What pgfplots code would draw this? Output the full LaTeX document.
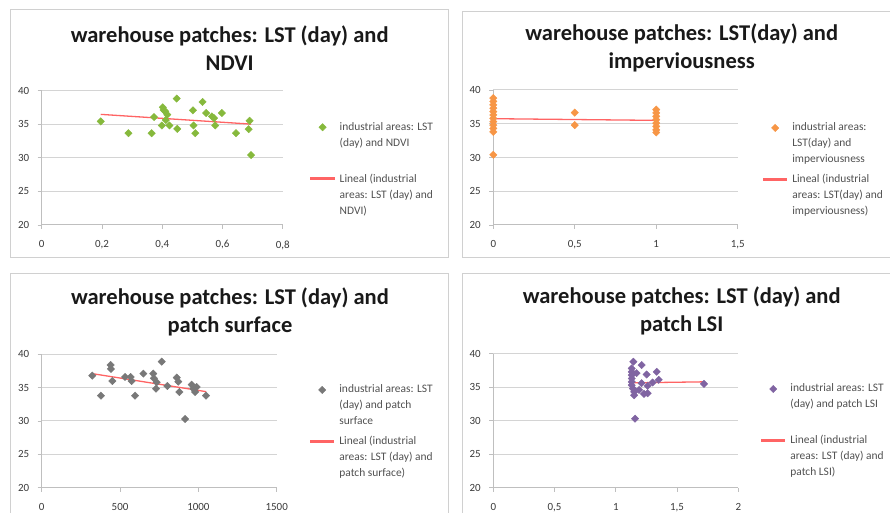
\documentclass[border=0pt]{standalone}
\usepackage{fontspec}
\setmainfont{Carlito}
\usepackage{pgfplots}
\pgfplotsset{compat=1.18}
\definecolor{cgreen}{HTML}{86B93C}
\definecolor{corange}{HTML}{F79646}
\definecolor{cgray}{HTML}{787878}
\definecolor{cpurple}{HTML}{8064A2}
\definecolor{ctrend}{HTML}{FF6464}
\definecolor{cgrid}{HTML}{D4D4D4}
\definecolor{caxis}{HTML}{BFBFBF}
\definecolor{cframe}{HTML}{D0D0D0}
\definecolor{ctext}{HTML}{3A3A3A}
\definecolor{clegend}{HTML}{505050}

\newcommand\lgtwo[2]{\vtop{\baselineskip=16bp\hbox{#1}\hbox{#2}}}
\newcommand\lgthree[3]{\vtop{\baselineskip=16bp\hbox{#1}\hbox{#2}\hbox{#3}}}

\pgfplotsset{
  excel/.style={
    scale only axis,
    anchor=south west,
    axis x line*=bottom,
    axis y line*=left,
    ymin=20, ymax=40, ytick={20,25,30,35,40},
    ymajorgrids,
    grid style={cgrid, line width=1bp},
    axis line style={caxis, line width=1bp},
    tick style={caxis, line width=0.8bp},
    tick align=outside,
    major tick length=4bp,
    tick label style={font=\fontsize{11}{13}\selectfont, text=ctext},
    /pgf/number format/assume math mode=true,
    /pgf/number format/use comma,
    /pgf/number format/1000 sep={},
    yticklabel style={xshift=-5bp},
    xticklabel style={yshift=-8bp},
    title style={align=center, font=\bfseries\fontsize{22.6}{28}\selectfont, text=black!90, anchor=center},
    legend cell align=left,
    legend style={draw=none, fill=none, anchor=north west, inner sep=0pt, outer sep=0pt,
      font=\fontsize{11.5}{16}\selectfont, text=clegend,
      cells={anchor=base west}, nodes={inner sep=0pt, text height=8bp, text depth=44bp},
      column sep=5bp, row sep=0pt},
    clip=false,
  },
  pts/.style={only marks, mark=square*, mark size=2.6bp, mark options={rotate=45, draw=#1, fill=#1}, color=#1,
    legend image code/.code={\draw[##1] plot coordinates {(11.5bp,3bp)};}},
  trend/.style={no marks, ctrend, line width=1.3bp,
    legend image code/.code={\fill[ctrend] (0bp,2.5bp) rectangle (23bp,4.1bp);}},
}

\begin{document}
\begin{tikzpicture}
\useasboundingbox (0bp,0bp) rectangle (890bp,513bp);
\draw[cframe, line width=1bp] (10bp,255bp) rectangle (448bp,503bp);
\draw[cframe, line width=1bp] (462bp,255bp) rectangle (900bp,501bp);
\draw[cframe, line width=1bp] (10bp,-10bp) rectangle (448bp,239bp);
\draw[cframe, line width=1bp] (462bp,-10bp) rectangle (900bp,239bp);

% Panel 1: NDVI
\begin{axis}[excel, at={(41.7bp,288bp)}, width=241bp, height=134.5bp,
  xmin=0, xmax=0.8, xtick={0,0.2,0.4,0.6,0.8},
  title={warehouse patches: LST (day) and\\NDVI},
  title style={at={(axis description cs:0.78,1)}, yshift=36.5bp},
  legend style={at={(axis description cs:1.115,0.764)}}]
\addplot[pts=cgreen] coordinates {
(0.196,35.4) (0.288,33.65) (0.365,33.65) (0.373,36.05) (0.402,37.5) (0.41,36.9)
(0.417,36.4) (0.399,34.8) (0.424,34.8) (0.405,37.1) (0.448,38.8) (0.45,34.3)
(0.502,37.05) (0.504,34.8) (0.51,33.65) (0.534,38.3) (0.546,36.65) (0.565,36.15)
(0.572,35.9) (0.576,34.8) (0.598,36.65) (0.645,33.65) (0.69,35.5) (0.687,34.25)
(0.695,30.4) (0.412,35.6)};
\addlegendentry{\lgtwo{industrial areas: LST}{(day) and NDVI}}
\addplot[trend] coordinates {(0.196,36.45) (0.695,35.0)};
\addlegendentry{\lgthree{Lineal (industrial}{areas: LST (day) and}{NDVI)}}
\end{axis}

% Panel 2: imperviousness
\begin{axis}[excel, at={(493.3bp,288bp)}, width=244.4bp, height=135bp,
  xmin=0, xmax=1.5, xtick={0,0.5,1,1.5},
  title={warehouse patches: LST(day) and\\imperviousness},
  title style={at={(axis description cs:0.771,1)}, yshift=36.5bp},
  legend style={at={(axis description cs:1.1035,0.756)}}]
\addplot[pts=corange] coordinates {
(0,38.8) (0,38.3) (0,37.8) (0,37.3) (0,36.8) (0,36.3) (0,35.8) (0,35.3)
(0,34.8) (0,34.3) (0,33.8) (0,30.4)
(0.5,36.65) (0.5,34.8)
(1,37.1) (1,36.6) (1,36.1) (1,35.6) (1,35.1) (1,34.6) (1,34.1) (1,33.7)};
\addlegendentry{\lgthree{industrial areas:}{LST(day) and}{imperviousness}}
\addplot[trend] coordinates {(0,35.75) (1,35.5)};
\addlegendentry{\lgthree{Lineal (industrial}{areas: LST(day) and}{imperviousness)}}
\end{axis}

% Panel 3: patch surface
\begin{axis}[excel, at={(41.7bp,25.3bp)}, width=235bp, height=133.4bp,
  xmin=0, xmax=1500, xtick={0,500,1000,1500},
  title={warehouse patches: LST (day) and\\patch surface},
  title style={at={(axis description cs:0.801,1)}, yshift=36.6bp},
  legend style={at={(axis description cs:1.142,0.770)}}]
\addplot[pts=cgray] coordinates {
(323,36.8) (378,33.8) (440,38.4) (442,37.8) (451,36.0) (532,36.6) (568,36.6)
(574,36.0) (596,33.8) (649,37.1) (712,37.1) (716,36.4) (734,35.8) (730,34.85)
(766,38.9) (802,35.25) (862,36.5) (872,35.9) (879,34.35) (915,30.3) (957,35.45)
(979,34.35) (989,35.1) (1049,33.8) (968,34.85)};
\addlegendentry{\lgthree{industrial areas: LST}{(day) and patch}{surface}}
\addplot[trend] coordinates {(323,37.1) (1050,34.4)};
\addlegendentry{\lgthree{Lineal (industrial}{areas: LST (day) and}{patch surface)}}
\end{axis}

% Panel 4: patch LSI
\begin{axis}[excel, at={(493.3bp,25.3bp)}, width=245bp, height=134bp,
  xmin=0, xmax=2, xtick={0,0.5,1,1.5,2},
  title={warehouse patches: LST (day) and\\patch LSI},
  title style={at={(axis description cs:0.769,1)}, yshift=36.7bp},
  legend style={at={(axis description cs:1.093,0.774)}}]
\addplot[pts=cpurple] coordinates {
(1.143,38.8) (1.211,38.3) (1.13,37.8) (1.13,37.3) (1.13,36.8) (1.13,36.3)
(1.13,35.8) (1.13,35.3) (1.14,34.8) (1.15,34.3) (1.15,33.8) (1.252,36.9)
(1.334,37.3) (1.35,36.1) (1.26,35.2) (1.26,34.1) (1.19,34.6) (1.21,35.6)
(1.17,37.1) (1.23,34.0) (1.157,30.3) (1.72,35.5) (1.3,35.7)};
\addlegendentry{\lgtwo{industrial areas: LST}{(day) and patch LSI}}
\addplot[trend] coordinates {(1.14,35.65) (1.72,35.8)};
\addlegendentry{\lgthree{Lineal (industrial}{areas: LST (day) and}{patch LSI)}}
\end{axis}
\end{tikzpicture}
\end{document}
